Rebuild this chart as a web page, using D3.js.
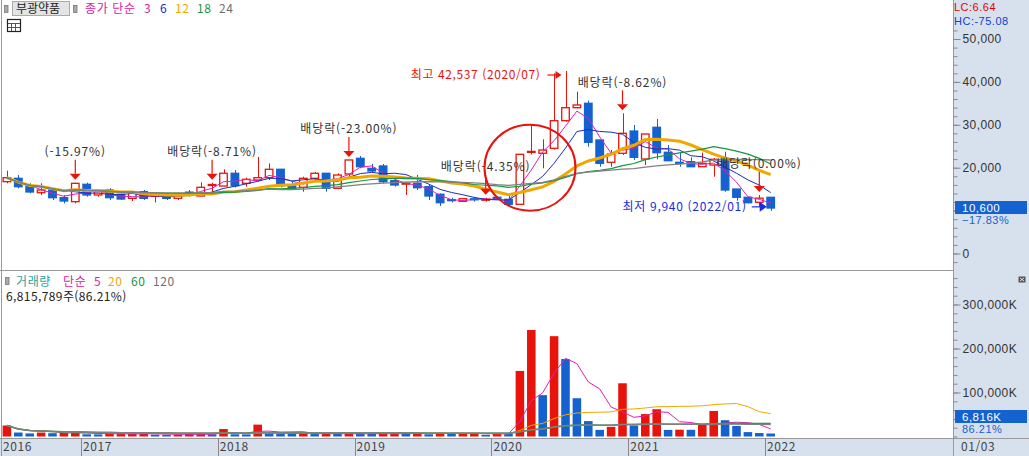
<!DOCTYPE html>
<html lang="ko">
<head>
<meta charset="UTF-8">
<script src="https://d3js.org/d3.v7.min.js"></script>
<style>
  body { margin: 0; background: #fff; }
  svg { display: block; }
  text { font-family: "Noto Sans CJK KR", "Noto Sans", sans-serif; }
  .num { font-family: "Liberation Sans", Arial, sans-serif; }
</style>
<title>부광약품</title>
</head>
<body>
<script>
// 월봉 2016/06 ~ 2022/01
const months = [
  "2016/06","2016/07","2016/08","2016/09","2016/10","2016/11","2016/12",
  "2017/01","2017/02","2017/03","2017/04","2017/05","2017/06","2017/07","2017/08","2017/09","2017/10","2017/11","2017/12",
  "2018/01","2018/02","2018/03","2018/04","2018/05","2018/06","2018/07","2018/08","2018/09","2018/10","2018/11","2018/12",
  "2019/01","2019/02","2019/03","2019/04","2019/05","2019/06","2019/07","2019/08","2019/09","2019/10","2019/11","2019/12",
  "2020/01","2020/02","2020/03","2020/04","2020/05","2020/06","2020/07","2020/08","2020/09","2020/10","2020/11","2020/12",
  "2021/01","2021/02","2021/03","2021/04","2021/05","2021/06","2021/07","2021/08","2021/09","2021/10","2021/11","2021/12",
  "2022/01"
];
const opens = [
  16740,17530,15730,14170,14800,13010,12080,
  16130,13640,14800,13800,12860,14400,13300,13640,12860,14300,13400,15850,
  15730,18700,16360,17130,17670,19630,15970,15430,17530,18700,15200,18530,
  22190,19860,20400,16970,16300,16360,15570,13800,12550,12170,12750,12550,
  13100,12630,11470,23700,23360,24520,30960,33990,35010,26460,21260,23360,
  28550,22030,29420,23590,21250,21400,20230,20630,22190,15030,13100,11940,
  13100
];
const highs = [
  19300,18300,16360,16360,15200,13640,16500,
  16500,14800,15200,14030,14400,14800,14030,14030,14170,14800,16600,16500,
  19630,19460,17670,22500,21000,19630,16900,17900,19000,18700,18700,21800,
  22730,20900,20860,17300,16740,18300,15970,14030,13000,12800,13200,13000,
  13400,13640,23120,30190,26620,42000,42537,37720,35620,26460,24130,32680,
  29950,27860,31350,25290,23500,22400,23500,22260,23730,15030,13100,13640,
  13100
];
const lows = [
  16360,15200,14030,13640,12470,11700,11700,
  13240,13240,12470,12470,12240,12470,11900,12470,12470,13240,13400,14400,
  15730,15400,15570,16800,17130,15400,14800,14400,16600,14400,15000,17900,
  19860,18900,16360,15600,13640,14800,12470,11070,11900,12000,12100,12100,
  12500,10900,11470,23100,19860,24200,30720,33850,24900,20230,20230,22960,
  21790,20630,21960,21630,20230,20230,20230,17900,14400,12300,11700,10900,
  9940
];
const closes = [
  17670,15570,14340,14800,13010,12240,16360,
  13640,14400,13010,12700,14030,12860,13640,12860,13870,14100,15430,16080,
  18700,15800,17300,17670,19630,15800,15200,17530,18700,15200,18300,21800,
  20230,19230,16740,15970,16400,15340,13400,11840,12400,12770,12650,12650,
  12700,11470,23120,23800,24130,30960,33990,34620,25920,21020,23190,28020,
  22420,27860,23500,21630,21100,20230,21020,21960,14800,13100,11840,12900,
  10600
];
// 거래량 (천주)
const volumes = [
  25000,9000,7000,9000,7500,8000,9000,
  5000,4800,6000,6200,6400,6800,4000,3800,4200,6000,6500,5000,
  17000,5000,4800,27000,7000,6800,6600,7000,5500,6500,6300,6600,
  6400,6200,6500,6700,6300,8000,5000,8200,6800,7000,7200,4000,
  6500,5700,149000,242000,94000,228000,176000,87000,35000,15000,22000,121000,
  25000,51000,62000,15000,15500,15200,28000,58000,37000,24000,10000,7906,
  6816
];
const yearLabels = ["2016","2017","2018","2019","2020","2021","2022"];
const priceTicks = [0, 10000, 20000, 30000, 40000, 50000];
const volTicks = [100000, 200000, 300000];
const priceMAs = [3, 6, 12, 18, 24];
const volMAs = [5, 20, 60, 120];
const dividendIdx = [6, 18, 30, 42, 54, 66];
const dividendLabels = ["(-15.97%)","배당락(-8.71%)","배당락(-23.00%)","배당락(-4.35%)","배당락(-8.62%)","배당락(0.00%)"];

const W = 1029, H = 456;
const axisX = 953;
const topH = 270, volTop = 271, volBottom = 438;
const RED = "#e8140c", BLUE = "#1462d0", PANEL = "#d7e1ee";
const maColors = ["#e020b0", "#1a2cc0", "#f0a800", "#159640", "#808080"];
const maWidths = [1, 1, 3, 1.2, 1.3];
const vmaColors = ["#e020b0", "#f0a800", "#159640", "#808080"];
const vmaWidths = [1, 1, 1.5, 1.5];

function movingAvg(arr, n) {
  return arr.map(function(_, i) { return d3.mean(arr.slice(Math.max(0, i - n + 1), i + 1)); });
}

const svg = d3.select("body").append("svg").attr("width", W).attr("height", H);
svg.append("rect").attr("width", W).attr("height", H).attr("fill", "#fff");
svg.append("rect").attr("x", axisX).attr("width", W - axisX).attr("height", H).attr("fill", PANEL);
svg.append("rect").attr("y", volBottom).attr("width", axisX).attr("height", H - volBottom).attr("fill", PANEL);

const n = months.length;
const x = d3.scaleBand().domain(d3.range(n))
    .range([1.2, 1.2 + n * 11.4]).paddingInner(0.25).paddingOuter(0.125);
const xc = function(i) { return x(i) + x.bandwidth() / 2; };
const slotLeft = function(i) { return x(i) - x.step() * 0.125; };
const yP = d3.scaleLinear().domain([0, 50000]).range([253.5, 39]);
const yV = d3.scaleLinear().domain([0, 300000]).range([436.5, 304.5]);

const defs = svg.append("defs");
defs.append("clipPath").attr("id", "clipTop").append("rect")
    .attr("x", 2).attr("y", 0).attr("width", axisX - 2).attr("height", topH);
defs.append("clipPath").attr("id", "clipVol").append("rect")
    .attr("x", 2).attr("y", volTop).attr("width", axisX - 2).attr("height", volBottom - volTop);

// ---- 가격 패널 ----
const gTop = svg.append("g").attr("clip-path", "url(#clipTop)");
const idx = d3.range(n);
const up = function(i) { return closes[i] >= opens[i]; };

gTop.selectAll("line.wick").data(idx).enter().append("line")
    .attr("x1", function(i) { return Math.round(xc(i)) + 0.5; })
    .attr("x2", function(i) { return Math.round(xc(i)) + 0.5; })
    .attr("y1", function(i) { return yP(highs[i]); })
    .attr("y2", function(i) { return yP(lows[i]); })
    .attr("stroke", function(i) { return up(i) ? RED : BLUE; })
    .attr("stroke-width", 1);

gTop.selectAll("rect.body").data(idx).enter().append("rect")
    .attr("x", function(i) { return x(i) + 0.5; })
    .attr("width", x.bandwidth() - 1)
    .attr("y", function(i) { return yP(Math.max(opens[i], closes[i])); })
    .attr("height", function(i) { return Math.max(1, Math.abs(yP(opens[i]) - yP(closes[i]))); })
    .attr("fill", function(i) { return up(i) ? "#fff" : BLUE; })
    .attr("stroke", function(i) { return up(i) ? RED : BLUE; })
    .attr("stroke-width", 1.3);

priceMAs.forEach(function(p, k) {
  const ma = movingAvg(closes, p);
  gTop.append("path")
      .datum(idx)
      .attr("fill", "none")
      .attr("stroke", maColors[k])
      .attr("stroke-width", maWidths[k])
      .attr("d", d3.line().x(function(i) { return xc(i); }).y(function(i) { return yP(ma[i]); }));
});

// 배당락 화살표
dividendIdx.forEach(function(i, k) {
  const cx = xc(i), hy = yP(highs[i]);
  gTop.append("text").attr("x", cx).attr("y", hy - 31).attr("dy", "0.36em")
      .attr("text-anchor", "middle").attr("font-size", 12).attr("letter-spacing", 0.9)
      .attr("fill", "#333").text(dividendLabels[k]);
  gTop.append("line").attr("x1", cx).attr("x2", cx).attr("y1", hy - 23).attr("y2", hy - 9)
      .attr("stroke", RED).attr("stroke-width", 1.2);
  gTop.append("path").attr("d", "M" + (cx - 5.5) + "," + (hy - 9) + "L" + (cx + 5.5) + "," + (hy - 9) + "L" + cx + "," + (hy - 3) + "Z")
      .attr("fill", RED);
});

// 최고 / 최저
const iMax = d3.maxIndex(highs), iMin = d3.minIndex(lows);
const fmt = d3.format(",");
const maxY = yP(highs[iMax]) + 4;
gTop.append("text").attr("x", xc(iMax) - 25).attr("y", maxY).attr("dy", "0.36em")
    .attr("text-anchor", "end").attr("font-size", 12).attr("letter-spacing", 0.6).attr("fill", RED)
    .text("최고 " + fmt(highs[iMax]) + " (" + months[iMax] + ")");
gTop.append("line").attr("x1", xc(iMax) - 18).attr("x2", xc(iMax) - 9).attr("y1", maxY).attr("y2", maxY)
    .attr("stroke", RED).attr("stroke-width", 1.2);
gTop.append("path").attr("d", "M" + (xc(iMax) - 10) + "," + (maxY - 4) + "L" + (xc(iMax) - 10) + "," + (maxY + 4) + "L" + (xc(iMax) - 4) + "," + maxY + "Z")
    .attr("fill", RED);

const minY = yP(lows[iMin]) - 4;
const MINBLUE = "#1a2ae0";
gTop.append("text").attr("x", xc(iMin) - 24).attr("y", minY).attr("dy", "0.36em")
    .attr("text-anchor", "end").attr("font-size", 12).attr("letter-spacing", 0.7).attr("fill", MINBLUE)
    .text("최저 " + fmt(lows[iMin]) + " (" + months[iMin] + ")");
gTop.append("line").attr("x1", xc(iMin) - 19).attr("x2", xc(iMin) - 10).attr("y1", minY).attr("y2", minY)
    .attr("stroke", MINBLUE).attr("stroke-width", 1.2);
gTop.append("path").attr("d", "M" + (xc(iMin) - 11) + "," + (minY - 5) + "L" + (xc(iMin) - 11) + "," + (minY + 5) + "L" + (xc(iMin) - 4) + "," + minY + "Z")
    .attr("fill", MINBLUE);

// 빨간 원
gTop.append("ellipse").attr("cx", xc(46) - 1.3).attr("cy", yP(20000))
    .attr("rx", 45.5).attr("ry", 43)
    .attr("fill", "none").attr("stroke", "#e81010").attr("stroke-width", 2);

// ---- 거래량 패널 ----
const gVol = svg.append("g").attr("clip-path", "url(#clipVol)");
gVol.selectAll("rect.vol").data(idx).enter().append("rect")
    .attr("x", function(i) { return x(i); })
    .attr("width", x.bandwidth())
    .attr("y", function(i) { return yV(volumes[i]); })
    .attr("height", function(i) { return yV(0) - yV(volumes[i]); })
    .attr("fill", function(i) { return (i === 0 || volumes[i] > volumes[i - 1]) ? RED : BLUE; });

volMAs.forEach(function(p, k) {
  const ma = movingAvg(volumes, p);
  gVol.append("path")
      .datum(idx)
      .attr("fill", "none")
      .attr("stroke", vmaColors[k])
      .attr("stroke-width", vmaWidths[k])
      .attr("d", d3.line().x(function(i) { return xc(i); }).y(function(i) { return yV(ma[i]); }));
});

// ---- 프레임 ----
svg.append("line").attr("x1", 1.5).attr("x2", 1.5).attr("y1", 0).attr("y2", H).attr("stroke", "#999");
svg.append("line").attr("x1", 0).attr("x2", axisX).attr("y1", topH + 0.5).attr("y2", topH + 0.5).attr("stroke", "#999");
svg.append("line").attr("x1", 0).attr("x2", W).attr("y1", volBottom + 0.5).attr("y2", volBottom + 0.5).attr("stroke", "#999");
svg.append("line").attr("x1", axisX + 0.5).attr("x2", axisX + 0.5).attr("y1", 0).attr("y2", H).attr("stroke", "#999");

// ---- 축 ----
const last = n - 1;
function styleAxis(g) {
  g.select(".domain").remove();
  g.selectAll(".tick line").attr("stroke", "#888");
  g.selectAll(".tick text").attr("fill", "#333").attr("font-size", 12).attr("class", "num")
      .attr("font-family", null).attr("letter-spacing", 0.4);
}
svg.append("g").attr("transform", "translate(" + (axisX + 0.5) + ",0)")
    .call(d3.axisRight(yP).tickValues(d3.range(-2000, 52001, 2000)).tickSize(4).tickFormat(""))
    .call(styleAxis);
// 현재가 박스에 가려지는 눈금 라벨은 비움
svg.append("g").attr("transform", "translate(" + (axisX + 0.5) + ",0)")
    .call(d3.axisRight(yP).tickValues(priceTicks).tickSize(7).tickPadding(2)
      .tickFormat(function(d) { return Math.abs(yP(d) - yP(closes[last])) < 16 ? "" : fmt(d); }))
    .call(styleAxis);
svg.append("g").attr("transform", "translate(" + (axisX + 0.5) + ",0)")
    .call(d3.axisRight(yV).tickValues(d3.range(0, 360001, 20000)).tickSize(4).tickFormat(""))
    .call(styleAxis);
svg.append("g").attr("transform", "translate(" + (axisX + 0.5) + ",0)")
    .call(d3.axisRight(yV).tickValues(volTicks).tickSize(7).tickPadding(2).tickFormat(function(d) { return fmt(d) + "K"; }))
    .call(styleAxis);

// 연도 라벨
const yearIdx = yearLabels.map(function(y, k) { return k === 0 ? 0 : months.indexOf(y + "/01"); });
const gX = svg.append("g");
gX.selectAll("line").data(yearIdx.slice(1)).enter().append("line")
    .attr("x1", function(i) { return Math.round(slotLeft(i)) + 0.5; })
    .attr("x2", function(i) { return Math.round(slotLeft(i)) + 0.5; })
    .attr("y1", volBottom).attr("y2", H).attr("stroke", "#888");
gX.selectAll("text").data(yearIdx).enter().append("text")
    .attr("x", function(i, k) { return k === 0 ? 3 : slotLeft(i) + 2; })
    .attr("y", 451)
    .attr("font-size", 12).attr("letter-spacing", 0.6).attr("fill", "#444")
    .text(function(_, k) { return yearLabels[k]; });
svg.append("text").attr("x", 961).attr("y", 451).attr("font-size", 12).attr("letter-spacing", 0.6)
    .attr("fill", "#444").text("01/03");

// 현재가 박스
const chg = closes[last] / closes[last - 1] - 1;
function sideText(xp, yp, str, color) {
  return svg.append("text").attr("class", "num").attr("x", xp).attr("y", yp).attr("dy", "0.36em")
      .attr("font-size", 11).attr("letter-spacing", 0.5).attr("fill", color).text(str);
}
sideText(954, 7.5, "LC:" + (closes[last] / lows[iMin] * 100 - 100).toFixed(2), "#e00000");
sideText(954, 21, "HC:" + (closes[last] / highs[iMax] * 100 - 100).toFixed(2), "#1040d0");
svg.append("rect").attr("x", 955).attr("y", yP(closes[last]) - 7).attr("width", 72).attr("height", 13)
    .attr("fill", BLUE);
sideText(962, yP(closes[last]), fmt(closes[last]), "#fff").attr("font-size", 11.5);
sideText(962, yP(closes[last]) + 12.5, d3.format(".2%")(chg), BLUE);

svg.append("rect").attr("x", 955).attr("y", 410).attr("width", 72).attr("height", 13).attr("fill", BLUE);
sideText(962, 416.5, fmt(Math.round(volumes[last])) + "K", "#fff").attr("font-size", 11.5);
sideText(962, 429.5, d3.format(".2%")(volumes[last] / volumes[last - 1]), BLUE);

// 닫기 버튼
svg.append("rect").attr("x", 1018.5).attr("y", 276.5).attr("width", 7).attr("height", 6).attr("fill", "#555");
svg.append("path").attr("d", "M1020,278L1024,281M1024,278L1020,281").attr("stroke", "#fff").attr("stroke-width", 0.8);

// ---- 범례 ----
function marker(xp, yp) {
  svg.append("rect").attr("x", xp + 0.5).attr("y", yp + 0.5).attr("width", 3.5).attr("height", 7)
      .attr("fill", "#aaa").attr("stroke", "#777").attr("stroke-width", 0.8);
}
marker(4, 5);
svg.append("rect").attr("x", 12.5).attr("y", 1.5).attr("width", 57).attr("height", 14)
    .attr("fill", "#e4e4e4").attr("stroke", "#aaa");
svg.append("text").attr("x", 16).attr("y", 13).attr("font-size", 12).attr("fill", "#222").text("부광약품");
marker(73, 5);
const topLegend = [["종가 단순", "#e020a0", 85], ["3", "#e020a0", 144], ["6", "#1a2cc0", 160],
  ["12", "#f0a800", 175], ["18", "#159640", 197], ["24", "#707070", 219]];
topLegend.forEach(function(d) {
  svg.append("text").attr("x", d[2]).attr("y", 13).attr("font-size", 12).attr("letter-spacing", 0.6)
      .attr("fill", d[1]).text(d[0]);
});
// 표 아이콘
const ic = svg.append("g").attr("fill", "none").attr("stroke", "#222").attr("stroke-width", 1);
ic.append("rect").attr("x", 7.5).attr("y", 19.5).attr("width", 13).attr("height", 12).attr("stroke-width", 1.2);
ic.append("path").attr("d", "M8,23.5H20M8,27.5H20M11.5,23V31M15.5,23V31").attr("stroke", "#555");

marker(5, 277);
const volLegend = [["거래량", "#2a9fa0", 16], ["단순", "#e020a0", 63], ["5", "#e020a0", 94],
  ["20", "#f0a800", 108], ["60", "#159640", 131], ["120", "#707070", 153]];
volLegend.forEach(function(d) {
  svg.append("text").attr("x", d[2]).attr("y", 286).attr("font-size", 12).attr("letter-spacing", 0.6)
      .attr("fill", d[1]).text(d[0]);
});
svg.append("text").attr("x", 6).attr("y", 301).attr("font-size", 12).attr("letter-spacing", 0.4)
    .attr("fill", "#222")
    .text("6,815,789주(" + d3.format(".2%")(volumes[last] / volumes[last - 1]) + ")");
</script>
</body>
</html>
